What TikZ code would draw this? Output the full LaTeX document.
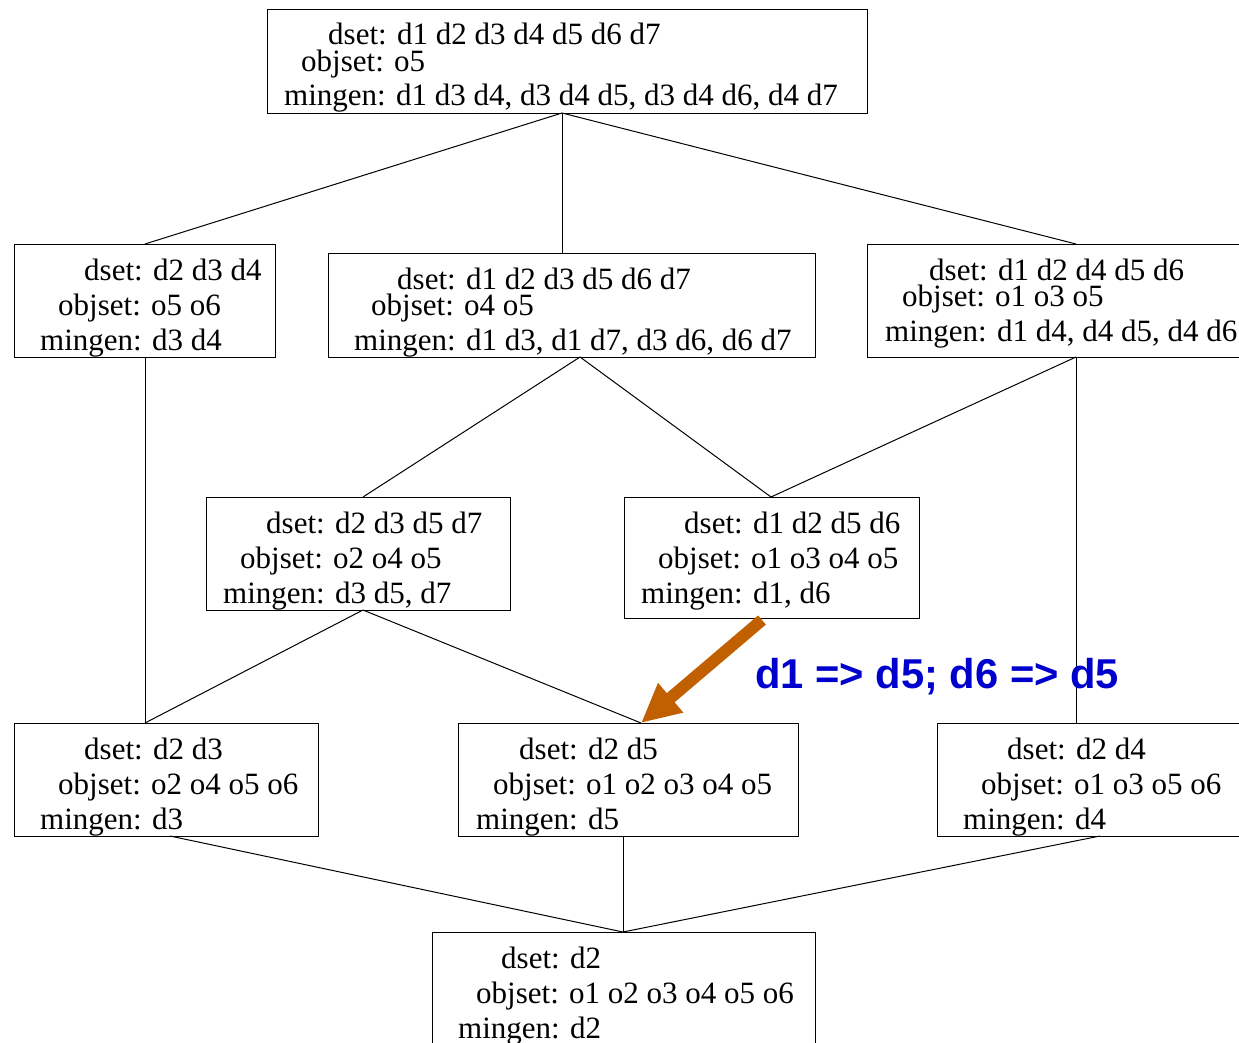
\documentclass[tikz,border=0pt]{standalone}
\usepackage{fontspec}
\setmainfont{Liberation Serif}
\newfontfamily\notefont{Liberation Sans}
\usetikzlibrary{arrows.meta}
\definecolor{noteblue}{RGB}{0,0,204}
\definecolor{implyorange}{RGB}{192,96,0}

\tikzset{
  lattice/.style={draw=black, line width=1pt, inner sep=0pt, anchor=north west},
  setline/.style={anchor=base west, inner sep=0pt, font=\fontsize{31}{31}\selectfont},
  edge/.style={draw=black, line width=1pt},
  implies/.style={draw=implyorange, line width=12pt,
    -{Triangle[length=39pt,width=36pt]}, shorten >=0pt},
  note/.style={anchor=base west, inner sep=0pt, text=noteblue,
    font=\notefont\bfseries\fontsize{41.7}{41.7}\selectfont},
}

% box with corners (x1,y1)-(x2,y2)
\newcommand\latbox[5]{%
  \node[lattice, minimum width={#4-#2}, minimum height={#5-#3}] (#1) at (#2,#3) {};}

\begin{document}
\begin{tikzpicture}[x=1pt,y=-1pt]
\clip (0,0) rectangle (1239,1043);
\fill[white] (0,0) rectangle (1239,1043);

% concept boxes
\latbox{top}{267}{9}{867}{113}
\node[setline] (top-d) at (328,45) {dset: d1 d2 d3 d4 d5 d6 d7};
\node[setline] (top-o) at (301,72) {objset: o5};
\node[setline] (top-m) at (284,106) {mingen: d1 d3 d4, d3 d4 d5, d3 d4 d6, d4 d7};

\latbox{l}{14}{244}{275}{357}
\node[setline] (l-d) at (84,280) {dset: d2 d3 d4};
\node[setline] (l-o) at (58,315) {objset: o5 o6};
\node[setline] (l-m) at (40,350) {mingen: d3 d4};

\latbox{m}{328}{253}{815}{357}
\node[setline] (m-d) at (397,289) {dset: d1 d2 d3 d5 d6 d7};
\node[setline] (m-o) at (371,315) {objset: o4 o5};
\node[setline] (m-m) at (354,350) {mingen: d1 d3, d1 d7, d3 d6, d6 d7};

\latbox{r}{867}{244}{1262}{357}
\node[setline] (r-d) at (929,280) {dset: d1 d2 d4 d5 d6};
\node[setline] (r-o) at (902,306) {objset: o1 o3 o5};
\node[setline] (r-m) at (885,341) {mingen: d1 d4, d4 d5, d4 d6};

\latbox{ml}{206}{497}{510}{610}
\node[setline] (ml-d) at (266,533) {dset: d2 d3 d5 d7};
\node[setline] (ml-o) at (240,568) {objset: o2 o4 o5};
\node[setline] (ml-m) at (223,603) {mingen: d3 d5, d7};

\latbox{mr}{624}{497}{919}{618}
\node[setline] (mr-d) at (684,533) {dset: d1 d2 d5 d6};
\node[setline] (mr-o) at (658,568) {objset: o1 o3 o4 o5};
\node[setline] (mr-m) at (641,603) {mingen: d1, d6};

\latbox{bl}{14}{723}{318}{836}
\node[setline] (bl-d) at (84,759) {dset: d2 d3};
\node[setline] (bl-o) at (58,794) {objset: o2 o4 o5 o6};
\node[setline] (bl-m) at (40,829) {mingen: d3};

\latbox{bm}{458}{723}{798}{836}
\node[setline] (bm-d) at (519,759) {dset: d2 d5};
\node[setline] (bm-o) at (493,794) {objset: o1 o2 o3 o4 o5};
\node[setline] (bm-m) at (476,829) {mingen: d5};

\latbox{br}{937}{723}{1262}{836}
\node[setline] (br-d) at (1007,759) {dset: d2 d4};
\node[setline] (br-o) at (981,794) {objset: o1 o3 o5 o6};
\node[setline] (br-m) at (963,829) {mingen: d4};

\latbox{b}{432}{932}{815}{1065}
\node[setline] (b-d) at (501,968) {dset: d2};
\node[setline] (b-o) at (476,1003) {objset: o1 o2 o3 o4 o5 o6};
\node[setline] (b-m) at (458,1038) {mingen: d2};

% attachment points on the box borders
\coordinate (top-s) at (562,113);
\coordinate (l-n) at (145,244);  \coordinate (l-s) at (145,357);
\coordinate (m-n) at (562,253);  \coordinate (m-s) at (580,357);
\coordinate (r-n) at (1076,244); \coordinate (r-s) at (1076,357);
\coordinate (ml-n) at (363,497); \coordinate (ml-s) at (363,610);
\coordinate (mr-n) at (771,497); \coordinate (mr-s) at (762,620);
\coordinate (bl-n) at (145,723); \coordinate (bl-s) at (170,836);
\coordinate (bm-n) at (641,723); \coordinate (bm-s) at (623,836);
\coordinate (br-n) at (1076,723);\coordinate (br-s) at (1100,836);
\coordinate (b-n) at (623,932);

% lattice edges
\draw[edge] (top-s) -- (l-n);
\draw[edge] (top-s) -- (m-n);
\draw[edge] (top-s) -- (r-n);
\draw[edge] (l-s) -- (bl-n);
\draw[edge] (m-s) -- (ml-n);
\draw[edge] (m-s) -- (mr-n);
\draw[edge] (r-s) -- (mr-n);
\draw[edge] (r-s) -- (br-n);
\draw[edge] (ml-s) -- (bl-n);
\draw[edge] (ml-s) -- (bm-n);
\draw[edge] (bl-s) -- (b-n);
\draw[edge] (bm-s) -- (b-n);
\draw[edge] (br-s) -- (b-n);

% implication note
\draw[implies] (mr-s) -- (bm-n);
\node[note] (rule) at (755,688) {d1 => d5; d6 => d5};
\end{tikzpicture}
\end{document}
